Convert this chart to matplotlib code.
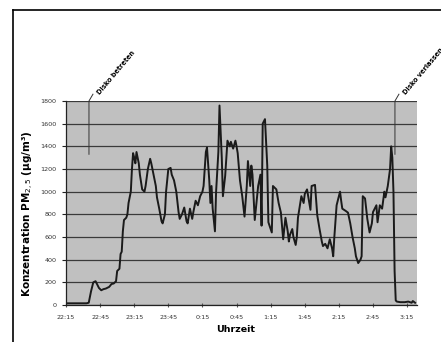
import numpy as np
import matplotlib
matplotlib.use("Agg")
import matplotlib.pyplot as plt
from matplotlib.lines import Line2D

# minutes after 22:15 and PM2.5 concentration (ug/m3)
minutes = [0, 4, 12, 18, 20, 22, 24, 26, 27, 29, 31, 33, 35, 38, 40, 42, 44, 45, 46, 47,
           48, 49, 50, 51, 53, 54, 55, 56, 57, 58, 59, 60, 61, 62, 63, 64, 65, 67, 69, 70,
           72, 74, 75, 77, 79, 80, 82, 84, 85, 87, 88, 90, 92, 93, 95, 97, 99, 100, 102, 104,
           106, 107, 109, 111, 112, 114, 116, 118, 120, 121, 123, 124, 126, 127, 128, 129, 131, 132, 134, 135,
           137, 138, 140, 142, 144, 145, 147, 149, 150, 151, 153, 155, 157, 159, 160, 162, 163, 164, 166, 168,
           169, 171, 172, 173, 175, 177, 178, 181, 182, 185, 187, 189, 190, 191, 193, 195, 196, 197, 199, 200,
           202, 203, 204, 207, 209, 210, 212, 214, 215, 216, 219, 221, 223, 225, 226, 228, 230, 232, 234, 235,
           236, 238, 241, 242, 243, 246, 248, 250, 251, 252, 254, 255, 257, 259, 260, 261, 263, 265, 267, 269,
           270, 272, 273, 274, 276, 278, 280, 281, 283, 285, 286, 287, 288, 289, 290, 291, 294, 298, 301, 304,
           305, 307]
pm25 = [15, 15, 15, 15, 20, 120, 200, 210, 190, 150, 130, 140, 145, 160, 185, 190, 210, 300, 310, 320,
        450, 470, 650, 750, 770, 800, 900, 950, 1000, 1200, 1340, 1300, 1250, 1350, 1300, 1250, 1150, 1020, 1000, 1050,
        1200, 1290, 1250, 1150, 1050, 950, 850, 740, 720, 800, 1000, 1200, 1210, 1150, 1100, 1000, 820, 760, 800, 860,
        740, 720, 850, 760, 820, 920, 880, 960, 1000, 1050, 1350, 1390, 1100, 900, 1050, 850, 650, 1000, 1350, 1760,
        1300, 960, 1140, 1450, 1400, 1440, 1380, 1450, 1400, 1340, 1100, 960, 780, 1050, 1270, 1050, 1230, 1150, 750, 950,
        1050, 1150, 700, 1600, 1640, 1230, 730, 640, 1050, 1020, 900, 815, 700, 580, 770, 650, 560, 620, 670, 600,
        530, 600, 770, 960, 900, 980, 1020, 900, 840, 1050, 1060, 790, 670, 560, 520, 540, 500, 580, 500, 430,
        600, 880, 1000, 920, 850, 830, 815, 720, 660, 600, 500, 430, 370, 400, 430, 960, 940, 760, 640, 720,
        820, 860, 880, 730, 880, 850, 1000, 950, 1050, 1200, 1400, 1300, 1000, 300, 40, 30, 25, 25, 30, 20,
        35, 20]

tick_pos = [0, 30, 60, 90, 120, 150, 180, 210, 240, 270, 300]
tick_labels = ["22:15", "22:45", "23:15", "23:45", "0:15", "0:45", "1:15", "1:45", "2:15", "2:45", "3:15"]
y_ticks = [0, 200, 400, 600, 800, 1000, 1200, 1400, 1600, 1800]

events = ["Disko betreten", "Disko verlassen"]
event_min = [20.2, 289.3]

fig = plt.figure(figsize=(4.41, 3.42), dpi=100)
ax = fig.add_axes([66/441, 1-305/342, (417-66)/441, (305-101)/342])
ax.set_facecolor("#c0c0c0")

ax.plot(minutes, pm25, color="#1a1a1a", lw=1.4)

ax.set_xlim(0, 308.7)
ax.set_ylim(0, 1800)
ax.set_yticks(y_ticks)
ax.set_yticklabels([str(v) for v in y_ticks], fontsize=4.6, color="#333333")
ax.set_xticks(tick_pos)
ax.set_xticklabels(tick_labels, fontsize=4.6, color="#333333")
ax.yaxis.grid(True, color="#3a3a3a", lw=0.9)
ax.set_axisbelow(True)
for s in ["top", "right"]:
    ax.spines[s].set_visible(False)
for s in ["left", "bottom"]:
    ax.spines[s].set_color("#222222")
    ax.spines[s].set_linewidth(0.9)
ax.tick_params(axis="y", direction="out", length=3, width=0.8, pad=4, color="#222222")
ax.tick_params(axis="x", direction="inout", length=3, width=0.8, pad=6, color="#555555")

fig.text(28/441, 1-214/342, "Konzentration PM$_{2,5}$ (\u00b5g/m\u00b3)", fontsize=7.5,
         fontweight="bold", rotation=90, ha="center", va="center")
fig.text(236/441, 1-330/342, "Uhrzeit", fontsize=6.8, fontweight="bold", ha="center", va="center")

# event markers
for name, t in zip(events, event_min):
    ax.plot([t, t, t + 3.5], [1330, 1800, 1860], color="#333333", lw=0.7, clip_on=False)
    ax.text(t + 10, 1850, name, rotation=50, fontsize=4.8, fontweight="bold",
            ha="left", va="bottom", rotation_mode="anchor", clip_on=False)

# page frame
fig.add_artist(Line2D([13/441, 13/441], [0, 1-10/342], color="black", lw=1.2))
fig.add_artist(Line2D([13/441, 1], [1-10/342, 1-10/342], color="black", lw=1.2))

fig.savefig("out.png", dpi=100)
